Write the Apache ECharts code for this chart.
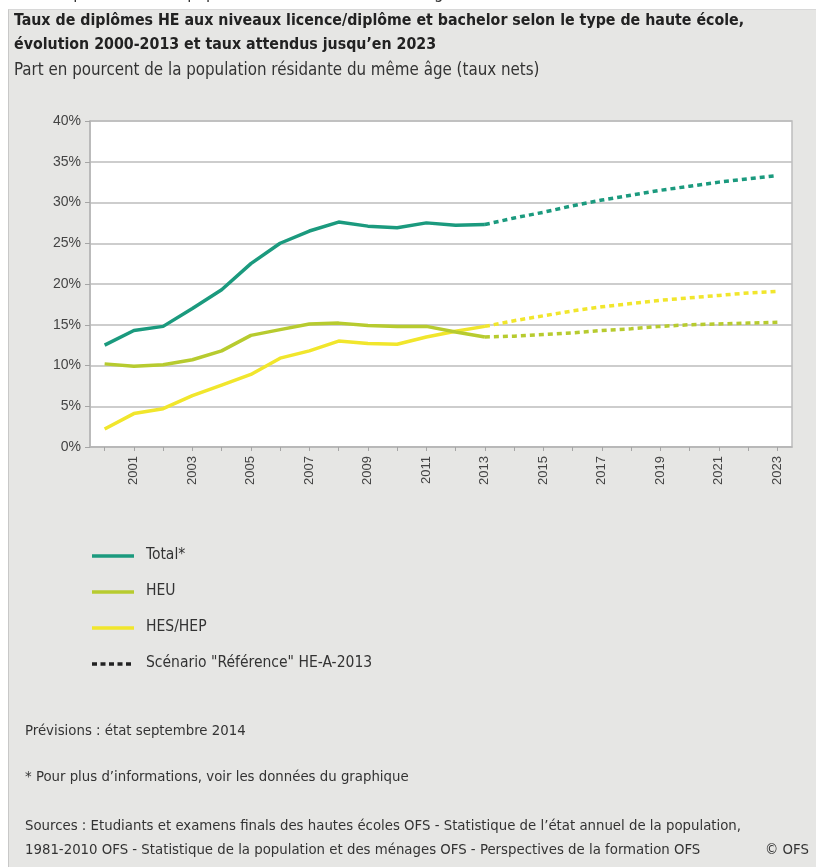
<!DOCTYPE html>
<html>
<head>
<meta charset="utf-8">
<script src="https://cdn.jsdelivr.net/npm/echarts@6/dist/echarts.min.js"></script>
<style>
html,body{margin:0;padding:0;background:#fff;}
#panel{position:absolute;left:8px;top:9px;width:808px;height:858px;background:#e6e6e4;border-left:1px solid #c8c8c8;border-top:1px solid #d8d8d8;box-sizing:border-box;}
#chart{position:absolute;left:0;top:0;width:816px;height:867px;}
</style>
</head>
<body>
<div id="panel"></div>
<div id="chart"></div>
<script>
// ---- data ----
const years = ['2000','2001','2002','2003','2004','2005','2006','2007','2008','2009','2010','2011','2012','2013',
               '2014','2015','2016','2017','2018','2019','2020','2021','2022','2023'];
// observed 2000-2013
const totalObs = [12.5, 14.3, 14.8, 17.0, 19.3, 22.5, 25.0, 26.5, 27.6, 27.1, 26.9, 27.5, 27.2, 27.3];
const heuObs   = [10.2, 9.9, 10.1, 10.7, 11.8, 13.7, 14.4, 15.1, 15.2, 14.9, 14.8, 14.8, 14.1, 13.5];
const hesObs   = [2.2, 4.1, 4.7, 6.3, 7.6, 8.9, 10.9, 11.8, 13.0, 12.7, 12.6, 13.5, 14.2, 14.8];
// scenario "Référence" 2013-2023
const totalProj = [27.3, 28.1, 28.8, 29.6, 30.3, 30.9, 31.5, 32.0, 32.5, 32.9, 33.3];
const heuProj   = [13.5, 13.6, 13.8, 14.0, 14.3, 14.5, 14.8, 15.0, 15.1, 15.2, 15.3];
const hesProj   = [14.8, 15.5, 16.1, 16.7, 17.2, 17.6, 18.0, 18.3, 18.6, 18.9, 19.1];
const yTicks = [0, 5, 10, 15, 20, 25, 30, 35, 40];

const seriesNames = ['Total*', 'HEU', 'HES/HEP'];
const scenarioName = 'Scénario "Référence" HE-A-2013';
const colors = ['#1b9a7e', '#b7cb2f', '#f1e62c'];

const titleText1 = 'Taux de diplômes HE aux niveaux licence/diplôme et bachelor selon le type de haute école,';
const titleText2 = 'évolution 2000-2013 et taux attendus jusqu\u2019en 2023';
const subtitleText = 'Part en pourcent de la population résidante du même âge (taux nets)';
const note1 = 'Prévisions : état septembre 2014';
const note2 = '* Pour plus d\u2019informations, voir les données du graphique';
const src1 = 'Sources : Etudiants et examens finals des hautes écoles OFS - Statistique de l\u2019état annuel de la population,';
const src2 = '1981-2010 OFS - Statistique de la population et des ménages OFS - Perspectives de la formation OFS';
const copy = '\u00A9 OFS';

// ---- build ----
const nObs = totalObs.length;
function obsFull(arr){ return years.map((y,i)=> i < nObs ? arr[i] : null); }
function projFull(arr){ const start = years.length - arr.length; return years.map((y,i)=> i >= start ? arr[i-start] : null); }

const FONT = '"Liberation Sans Narrow","DejaVu Sans Condensed","Liberation Sans",sans-serif';
const AXFONT = '"Liberation Sans",Arial,sans-serif';

const obsData = [totalObs, heuObs, hesObs];
const projData = [totalProj, heuProj, hesProj];
const series = [];
obsData.forEach((d,i)=>{
  series.push({name: seriesNames[i], type:'line', data: obsFull(d), symbol:'none', connectNulls:false,
    lineStyle:{color: colors[i], width:3.5}, z: 5-i});
});
projData.forEach((d,i)=>{
  series.push({name: seriesNames[i]+' proj', type:'line', data: projFull(d), symbol:'none',
    lineStyle:{color: colors[i], width:3.5, type:[5,4], cap:'butt'}, z: 5-i});
});

const legendItems = [
  {label: seriesNames[0], color: colors[0], dash: null, y: 556},
  {label: seriesNames[1], color: colors[1], dash: null, y: 592},
  {label: seriesNames[2], color: colors[2], dash: null, y: 628},
  {label: scenarioName, color: '#222', dash: [5,3.5], y: 664}
];
const graphics = [];
legendItems.forEach(it=>{
  graphics.push({type:'line', shape:{x1:92, y1:it.y, x2:134, y2:it.y},
    style:{stroke: it.color, lineWidth: 3.5, lineDash: it.dash, lineCap:'butt'}});
  graphics.push({type:'text', left:146, top: it.y-9,
    style:{text: it.label, font: '15.5px '+FONT, fill:'#333'}});
});
const texts = [
  {t: subtitleText, x: 15, y: -15, f: '16.8px '+FONT, c:'#333'},
  {t: titleText1, x: 14, y: 13, f: 'bold 15.8px '+FONT, c:'#222'},
  {t: titleText2, x: 14, y: 37, f: 'bold 15.8px '+FONT, c:'#222'},
  {t: subtitleText, x: 14, y: 62, f: '16.8px '+FONT, c:'#333'},
  {t: note1, x: 25, y: 724, f: '14.8px '+FONT, c:'#333'},
  {t: note2, x: 25, y: 770, f: '14.8px '+FONT, c:'#333'},
  {t: src1, x: 25, y: 819, f: '14.8px '+FONT, c:'#333'},
  {t: src2, x: 25, y: 843, f: '14.8px '+FONT, c:'#333'},
  {t: copy, x: 765, y: 843, f: '14.8px '+FONT, c:'#333'}
];
texts.forEach(o=>{
  graphics.push({type:'text', x:o.x, y:o.y, style:{text:o.t, font:o.f, fill:o.c}});
});

const chart = echarts.init(document.getElementById('chart'), null, {renderer:'canvas'});
chart.setOption({
  animation:false,
  backgroundColor:'transparent',
  grid:{left:90, top:121, right:24, bottom:420, show:true, backgroundColor:'#ffffff', borderColor:'#bdbdbd', borderWidth:1.5},
  xAxis:{type:'category', data: years, boundaryGap:true,
    axisLine:{show:true, lineStyle:{color:'#b5b5b5', width:1.5}},
    axisTick:{show:true, interval:0, alignWithLabel:true, length:4, lineStyle:{color:'#a5a5a5'}},
    axisLabel:{interval:(idx)=> idx % 2 === 1, rotate:90, color:'#444', fontSize:13, fontFamily: AXFONT, margin:9},
    splitLine:{show:false}},
  yAxis:{type:'value', min: yTicks[0], max: yTicks[yTicks.length-1], interval:5,
    axisLine:{show:true, lineStyle:{color:'#b5b5b5', width:1.5}},
    axisTick:{show:true, length:5, lineStyle:{color:'#a5a5a5'}},
    axisLabel:{formatter:'{value}%', color:'#444', fontSize:14, fontFamily: AXFONT, margin:9},
    splitLine:{show:true, lineStyle:{color:'#bcbcbc', width:1.5}}},
  series: series,
  graphic: graphics
});
</script>
</body>
</html>
